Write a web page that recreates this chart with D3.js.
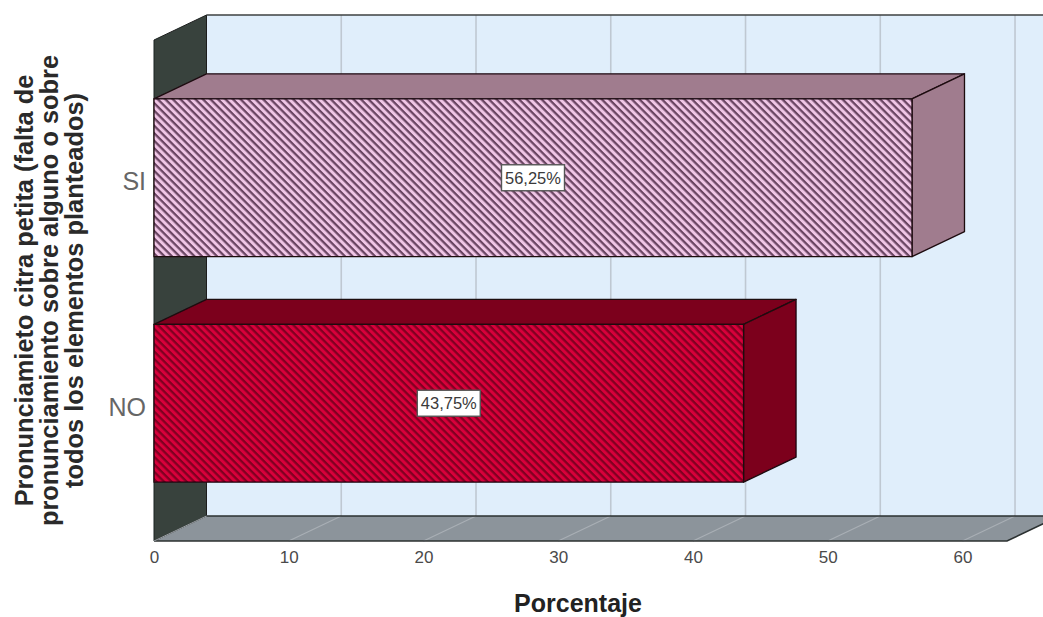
<!DOCTYPE html>
<html><head><meta charset="utf-8">
<script src="https://cdn.jsdelivr.net/npm/d3@7"></script>
<style>html,body{margin:0;padding:0;background:#fff;overflow:hidden}svg{display:block}text{font-family:"Liberation Sans",Arial,sans-serif}</style>
</head><body><script>
const categories = ["SI", "NO"];
const percentages = [56.25, 43.75];
const valueLabels = ["56,25%", "43,75%"];
const xTicks = [0, 10, 20, 30, 40, 50, 60];
const yTitleLines = ["Pronunciamieto citra petita (falta de", "pronunciamiento sobre alguno o sobre", "todos los elementos planteados)"];
const xTitle = "Porcentaje";
const frontColors = ["#f0c6e6", "#d8003a"];
const hatchColors = ["#6a4462", "#800020"];
const topColors = ["#a07c8e", "#7c001b"];
const sideColors = ["#a07c8e", "#7c001b"];

const W = 1043, H = 617, dx = 52.5, dy = -25;
const x = d3.scaleLinear().domain([0, 63.3]).range([154, 1007]);
const y = d3.scaleBand().domain(categories).range([40, 541]).paddingInner(0.3).paddingOuter(0.261);
const yTop = 40, yBot = 541, xEnd = x.range()[1];
const svg = d3.select("body").append("svg").attr("width", W).attr("height", H);
const poly = pts => pts.map(p => p.join(",")).join(" ");

const defs = svg.append("defs");
categories.forEach((c, i) => {
  const p = defs.append("pattern").attr("id", "hatch" + i).attr("patternUnits", "userSpaceOnUse")
    .attr("width", 7).attr("height", 7).attr("patternTransform", "rotate(45)scale(0.76)");
  p.append("rect").attr("width", 7).attr("height", 7).attr("fill", frontColors[i]);
  p.append("rect").attr("width", 7).attr("height", 3).attr("fill", hatchColors[i]);
});
defs.append("filter").attr("id", "soft").append("feGaussianBlur").attr("stdDeviation", 0.5);

const chart = svg.append("g").attr("filter", "url(#soft)");
// back wall
chart.append("polygon").attr("points", poly([[154 + dx, yTop + dy], [xEnd + dx, yTop + dy], [xEnd + dx, yBot + dy], [154 + dx, yBot + dy]]))
  .attr("fill", "#e0eefb");
// floor
chart.append("polygon").attr("points", poly([[154, yBot], [xEnd, yBot], [xEnd + dx, yBot + dy], [154 + dx, yBot + dy]]))
  .attr("fill", "#8c949b");
// left wall
chart.append("polygon").attr("points", poly([[154, yTop], [154 + dx, yTop + dy], [154 + dx, yBot + dy], [154, yBot]]))
  .attr("fill", "#39423e").attr("stroke", "#1c1f1e").attr("stroke-width", 1);
// grid
chart.selectAll(".g").data(xTicks.slice(1)).join("line").attr("x1", d => x(d) + dx).attr("x2", d => x(d) + dx)
  .attr("y1", yTop + dy).attr("y2", yBot + dy).attr("stroke", "#bfc8d2").attr("stroke-width", 1.6);
chart.selectAll(".f").data(xTicks.slice(1)).join("line").attr("x1", d => x(d)).attr("x2", d => x(d) + dx)
  .attr("y1", yBot).attr("y2", yBot + dy).attr("stroke", "#a9afb5").attr("stroke-width", 1.2);
// frame lines
chart.append("line").attr("x1", 154 + dx).attr("x2", xEnd + dx).attr("y1", yTop + dy).attr("y2", yTop + dy).attr("stroke", "#3c4040").attr("stroke-width", 1.6);
chart.append("line").attr("x1", 154 + dx).attr("x2", xEnd + dx).attr("y1", yBot + dy).attr("y2", yBot + dy).attr("stroke", "#2b3030").attr("stroke-width", 1.6);
chart.append("polyline").attr("points", poly([[154, yBot], [xEnd, yBot], [xEnd + dx, yBot + dy]])).attr("fill", "none").attr("stroke", "#2b3030").attr("stroke-width", 1.6);
chart.append("line").attr("x1", 154).attr("x2", 154 + dx).attr("y1", yBot).attr("y2", yBot + dy).attr("stroke", "#9aa0a4").attr("stroke-width", 1);

// bars
const bars = chart.selectAll(".bar").data(categories).join("g");
bars.each(function (c, i) {
  const g = d3.select(this), x0 = x(0), x1 = x(percentages[i]), y0 = y(c), y1 = y0 + y.bandwidth();
  const st = s => s.attr("stroke", "#1d0a10").attr("stroke-width", 1.3).attr("stroke-linejoin", "round");
  st(g.append("polygon").attr("points", poly([[x0, y0], [x1, y0], [x1 + dx, y0 + dy], [x0 + dx, y0 + dy]])).attr("fill", topColors[i]));
  st(g.append("polygon").attr("points", poly([[x1, y0], [x1 + dx, y0 + dy], [x1 + dx, y1 + dy], [x1, y1]])).attr("fill", sideColors[i]));
  st(g.append("rect").attr("x", x0).attr("y", y0).attr("width", x1 - x0).attr("height", y1 - y0).attr("fill", `url(#hatch${i})`));
});

// value labels
const labels = svg.selectAll(".vl").data(categories).join("g");
labels.each(function (c, i) {
  const g = d3.select(this), cx = (x(0) + x(percentages[i])) / 2, cy = y(c) + y.bandwidth() / 2;
  g.append("rect").attr("x", cx - 31.5).attr("y", cy - 13).attr("width", 63).attr("height", 26)
    .attr("fill", "#fff").attr("stroke", "#555").attr("stroke-width", 1.4);
  g.append("text").attr("x", cx).attr("y", cy + 6).attr("text-anchor", "middle").attr("font-size", 16.5).attr("fill", "#3a3a3a").text(valueLabels[i]);
});

// axes text
const xAxis = d3.axisBottom(x).tickValues(xTicks).tickSize(0).tickPadding(0).tickFormat(d3.format("d"));
const ax = svg.append("g").attr("transform", `translate(0,${yBot + 10})`).call(xAxis);
ax.select(".domain").remove();
ax.selectAll("text").attr("font-size", 17).attr("fill", "#4a4a4a").attr("font-family", '"Liberation Sans",Arial,sans-serif');

const yAxis = d3.axisLeft(y).tickSize(0).tickPadding(8);
const ay = svg.append("g").attr("transform", "translate(154,4.5)").call(yAxis);
ay.select(".domain").remove();
ay.selectAll("text").attr("font-size", 25).attr("fill", "#666").attr("font-family", '"Liberation Sans",Arial,sans-serif');

svg.append("text").attr("x", 578).attr("y", 611.5).attr("text-anchor", "middle").attr("font-size", 25).attr("font-weight", "bold").attr("fill", "#222").text(xTitle);

const yt = svg.append("text").attr("transform", "translate(0,290.5) rotate(-90)").attr("text-anchor", "middle")
  .attr("font-size", 25.4).attr("font-weight", "bold").attr("fill", "#2a2a2a");
yTitleLines.forEach((l, i) => yt.append("tspan").attr("x", 0).attr("y", 33 + i * 25).text(l));
</script></body></html>
